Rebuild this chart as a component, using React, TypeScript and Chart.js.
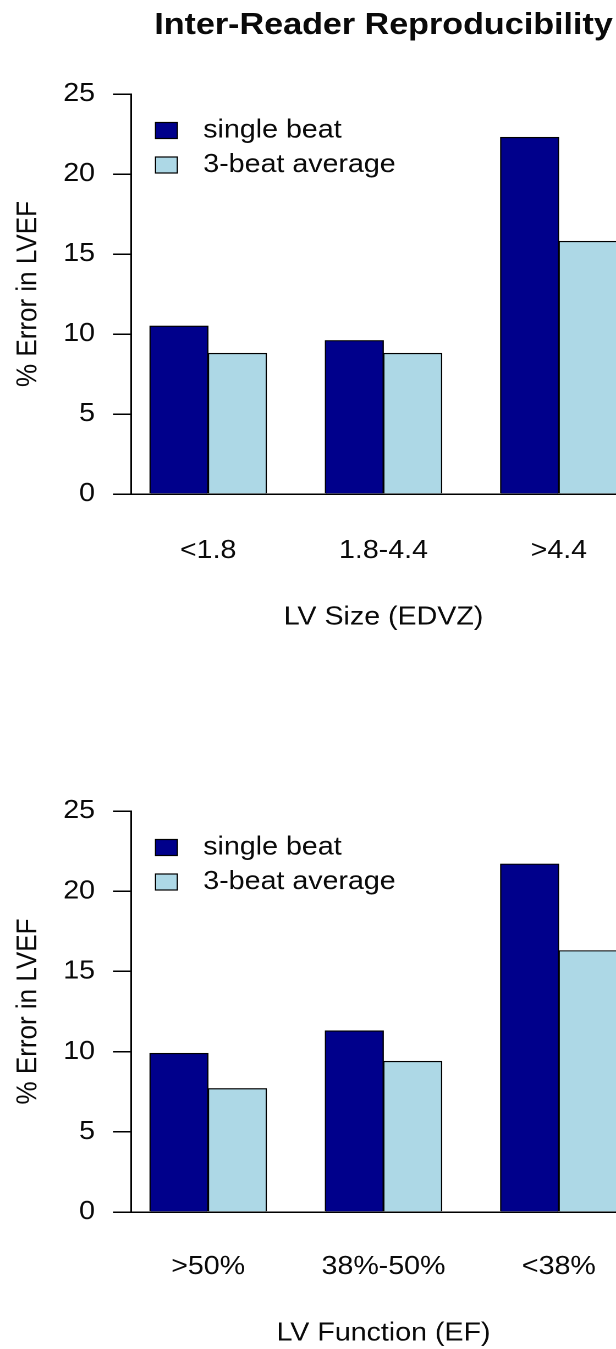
import React, { useEffect, useRef } from 'react';
import { Chart, registerables } from 'chart.js';

Chart.register(...registerables);

// ---------------- data ----------------
const SERIES_LABELS = ['single beat', '3-beat average'];
const SERIES_COLORS = ['#00008B', '#ADD8E6'];

const SIZE_GROUPS = ['<1.8', '1.8-4.4', '>4.4'];
const SIZE_SINGLE = [10.5, 9.6, 22.3];
const SIZE_AVG3 = [8.8, 8.8, 15.8];

const FUNC_GROUPS = ['>50%', '38%-50%', '<38%'];
const FUNC_SINGLE = [9.9, 11.3, 21.7];
const FUNC_AVG3 = [7.7, 9.4, 16.3];

const Y_TICKS = [0, 5, 10, 15, 20, 25];

const MAIN_TITLE = 'Inter-Reader Reproducibility';
const Y_TITLE = '% Error in LVEF';
const SIZE_X_TITLE = 'LV Size (EDVZ)';
const FUNC_X_TITLE = 'LV Function (EF)';

// ---------------- layout / style ----------------
const SX = 1.1; // horizontal stretch of the original figure
const LOGICAL_W = 600;
const FONT = '"Liberation Sans", Arial, Helvetica, sans-serif';
const INK = '#0a0a0a';
const BASE_SIZE = 26;

// barplot-like slots: each group = 1 space + 2 bars (width 1 each)
const GROUP_SLOTS = 3;
const X_PAD = 0.32;

const barX = (g: number, j: number) => g * GROUP_SLOTS + 1 + j + 0.5;
const groupX = (g: number) => g * GROUP_SLOTS + 2;

const insideLegend = {
  id: 'insideLegend',
  afterDraw(chart: any) {
    const { ctx, chartArea } = chart;
    ctx.save();
    chart.data.datasets.forEach((ds: any, i: number) => {
      const cy = chartArea.top + 36.5 + i * 34.5;
      const bx = chartArea.left + 22.3;
      ctx.fillStyle = ds.backgroundColor;
      ctx.fillRect(bx, cy - 8, 19.8, 16);
      ctx.strokeStyle = '#000';
      ctx.lineWidth = 1.2;
      ctx.strokeRect(bx, cy - 8, 19.8, 16);
      ctx.fillStyle = INK;
      ctx.font = `${BASE_SIZE}px ${FONT}`;
      ctx.textBaseline = 'middle';
      ctx.textAlign = 'left';
      ctx.fillText(ds.label, chartArea.left + 65.7, cy);
    });
    ctx.restore();
  },
};

type PanelOpts = {
  groups: string[];
  single: number[];
  avg: number[];
  xTitle: string;
  title?: string;
  topPad: number;
  xAxisHeight: number;
  tickPad: number;
  xTitlePad: number;
};

function makeConfig(o: PanelOpts): any {
  const nGroups = o.groups.length;
  const series = [o.single, o.avg];
  return {
    type: 'bar',
    data: {
      datasets: series.map((vals, j) => ({
        label: SERIES_LABELS[j],
        data: vals.map((v, g) => ({ x: barX(g, j), y: v })),
        backgroundColor: SERIES_COLORS[j],
        borderColor: '#000',
        borderWidth: 1.2,
        grouped: false,
        barPercentage: 1,
        categoryPercentage: 1,
      })),
    },
    options: {
      responsive: false,
      maintainAspectRatio: false,
      animation: false,
      devicePixelRatio: 2,
      font: { family: FONT, size: BASE_SIZE },
      color: INK,
      layout: {
        padding: { top: o.topPad, left: 0, bottom: 0, right: LOGICAL_W - 636 / SX },
      },
      plugins: {
        legend: { display: false },
        tooltip: { enabled: false },
        title: o.title
          ? {
              display: true,
              text: o.title,
              fullSize: false,
              color: INK,
              font: { family: FONT, size: 31, weight: 'bold' },
              padding: { top: 6.9, bottom: 49.9 },
            }
          : { display: false },
      },
      scales: {
        x: {
          type: 'linear',
          offset: false,
          min: 1 - X_PAD,
          max: nGroups * GROUP_SLOTS + X_PAD,
          afterBuildTicks: (scale: any) => {
            scale.ticks = o.groups.map((_, g) => ({ value: groupX(g) }));
          },
          afterFit: (scale: any) => {
            scale.height = o.xAxisHeight;
          },
          ticks: {
            autoSkip: false,
            maxRotation: 0,
            minRotation: 0,
            padding: o.tickPad,
            color: INK,
            font: { family: FONT, size: BASE_SIZE },
            callback: (_v: any, i: number) => o.groups[i],
          },
          grid: { display: false, offset: false },
          border: { display: true, color: '#000', width: 1.5 },
          title: {
            display: true,
            text: o.xTitle,
            color: INK,
            font: { family: FONT, size: BASE_SIZE },
            padding: { top: 0, bottom: o.xTitlePad },
          },
        },
        y: {
          min: Y_TICKS[0],
          max: Y_TICKS[Y_TICKS.length - 1],
          afterBuildTicks: (scale: any) => {
            scale.ticks = Y_TICKS.map((v) => ({ value: v }));
          },
          afterFit: (scale: any) => {
            scale.width = 131 / SX;
          },
          ticks: {
            padding: 16.3,
            color: INK,
            font: { family: FONT, size: BASE_SIZE },
          },
          grid: {
            display: true,
            drawOnChartArea: false,
            drawTicks: true,
            tickLength: 16.4,
            color: '#000',
            lineWidth: 1.5,
          },
          border: { display: true, color: '#000', width: 1.5 },
          title: {
            display: true,
            text: Y_TITLE,
            color: INK,
            font: { family: FONT, size: BASE_SIZE },
            padding: { top: 10, bottom: 0 },
          },
        },
      },
    },
    plugins: [insideLegend],
  };
}

function Panel({ opts, height }: { opts: PanelOpts; height: number }) {
  const ref = useRef<HTMLCanvasElement>(null);
  useEffect(() => {
    const chart = new Chart(ref.current as HTMLCanvasElement, makeConfig(opts));
    return () => chart.destroy();
  }, []);
  return (
    <canvas
      ref={ref}
      width={LOGICAL_W}
      height={height}
      style={{ display: 'block', width: `${LOGICAL_W * SX}px`, height: `${height}px` }}
    />
  );
}

export default function App() {
  return (
    <div
      style={{
        position: 'absolute',
        left: 0,
        top: 0,
        width: '616px',
        height: '1349px',
        overflow: 'hidden',
        background: '#fff',
      }}
    >
      <Panel
        height={718}
        opts={{
          groups: SIZE_GROUPS,
          single: SIZE_SINGLE,
          avg: SIZE_AVG3,
          xTitle: SIZE_X_TITLE,
          title: MAIN_TITLE,
          topPad: 0,
          xAxisHeight: 224,
          tickPad: 33.4,
          xTitlePad: 85,
        }}
      />
      <Panel
        height={631}
        opts={{
          groups: FUNC_GROUPS,
          single: FUNC_SINGLE,
          avg: FUNC_AVG3,
          xTitle: FUNC_X_TITLE,
          topPad: 93,
          xAxisHeight: 137,
          tickPad: 31.4,
          xTitlePad: 0,
        }}
      />
    </div>
  );
}
